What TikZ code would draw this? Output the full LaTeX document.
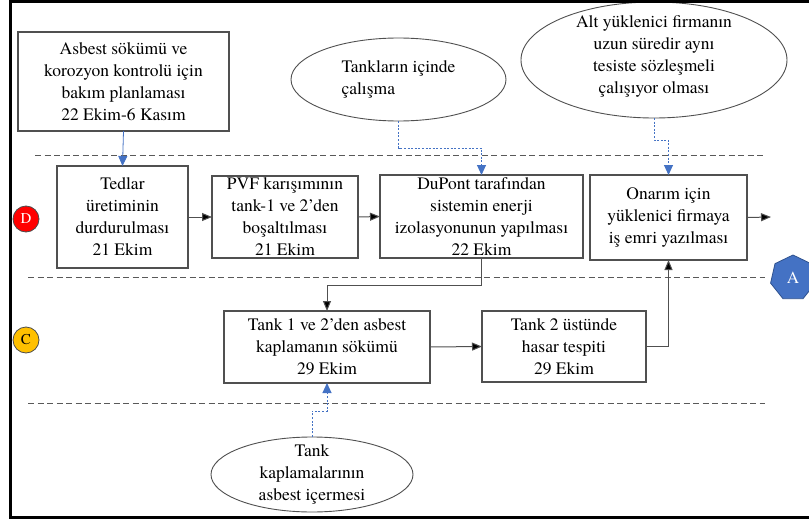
\documentclass[tikz,border=0pt]{standalone}
\usepackage{fontspec}
\setmainfont{TeX Gyre Termes}
\usetikzlibrary{arrows.meta,shapes.geometric}

\definecolor{boxline}{HTML}{505050}
\definecolor{sepline}{HTML}{595959}
\definecolor{accent}{HTML}{4472C4}
\definecolor{accentdark}{HTML}{2F528F}
\definecolor{markred}{HTML}{FF0000}
\definecolor{markgold}{HTML}{FFC000}

\begin{document}
\begin{tikzpicture}[x=1pt,y=-1pt,
  every node/.style={inner sep=0pt, outer sep=0pt},
  txt/.style={font=\fontsize{17.5}{22}\selectfont, align=center},
  stepbox/.style={draw=boxline, line width=1.2pt, fill=white, rectangle},
  cloud/.style={draw=boxline, line width=0.9pt, fill=white, ellipse},
  sepdash/.style={draw=sepline, line width=1pt, dash pattern=on 6pt off 3.5pt},
  flow/.style={draw=boxline, line width=1pt, -{Triangle[length=10pt,width=8pt,fill=black]}},
  cause/.style={draw=accent, line width=1pt, dash pattern=on 2pt off 1.6pt,
                -{Triangle[length=10pt,width=9pt,fill=accent]}},
  plan/.style={draw=accent, line width=0.8pt, -{Triangle[length=10pt,width=9pt,fill=accent]}},
  marker/.style={circle, draw=black!70, line width=0.8pt, minimum size=26pt,
                 font=\fontsize{15}{15}\selectfont}
]
\useasboundingbox (0,0) rectangle (809,519);
\clip (0,0) rectangle (809,519);

% lane separators
\draw[sepdash] (35,155) -- (765,155);
\draw[sepdash] (28,277) -- (765,277);
\draw[sepdash] (28,403) -- (765,403);

% planning box and contributing conditions
\node[stepbox, minimum width=211, minimum height=99,
      label={[txt]center:Asbest sökümü ve\\korozyon kontrolü için\\bakım planlaması\\22 Ekim-6 Kasım}]
  (plan) at (123.5,81.5) {};
\node[cloud, minimum width=215, minimum height=83,
      label={[txt, align=left]center:Tankların içinde\\çalışma}]
  (work) at (398.5,79.5) {};
\node[cloud, minimum width=266, minimum height=116,
      label={[txt, yshift=4pt]center:Alt yüklenici firmanın\\uzun süredir aynı\\tesiste sözleşmeli\\çalışıyor olması}]
  (sub) at (654,60) {};
\node[cloud, minimum width=202, minimum height=75,
      label={[txt]center:Tank\\kaplamalarının\\asbest içermesi}]
  (asb) at (312,474.5) {};

% lane D
\node[stepbox, minimum width=131, minimum height=102,
      label={[txt]center:Tedlar\\üretiminin\\durdurulması\\21 Ekim}]
  (ted) at (122.5,217) {};
\node[stepbox, minimum width=146, minimum height=82,
      label={[txt]center:PVF karışımının\\tank-1 ve 2’den\\boşaltılması\\21 Ekim}]
  (pvf) at (285,217) {};
\node[stepbox, minimum width=203, minimum height=83,
      label={[txt]center:DuPont tarafından\\sistemin enerji\\izolasyonunun yapılması\\22 Ekim}]
  (dup) at (481.5,216.5) {};
\node[stepbox, minimum width=157, minimum height=85,
      label={[txt]center:Onarım için\\yüklenici firmaya\\iş emri yazılması}]
  (onr) at (668.5,217.5) {};

% lane C
\node[stepbox, minimum width=206, minimum height=72,
      label={[txt]center:Tank 1 ve 2’den asbest\\kaplamanın sökümü\\29 Ekim}]
  (tk1) at (327,347) {};
\node[stepbox, minimum width=164, minimum height=71,
      label={[txt]center:Tank 2 üstünde\\hasar tespiti\\29 Ekim}]
  (tk2) at (564,346.5) {};

% lane markers and off-page connector
\node[marker, fill=markred, text=white] (laneD) at (26,219) {D};
\node[marker, fill=markgold, text=black] (laneC) at (26,340) {C};
\node[regular polygon, regular polygon sides=7, minimum size=46pt,
      fill=accent, draw=accentdark, line width=0.8pt, text=white,
      font=\fontsize{17}{17}\selectfont] (cont) at (793,278) {A};
\coordinate (out) at (771,217);

% sequence
\draw[plan] (plan.south) -- (ted.north);
\draw[flow] (ted.east) -- (pvf.west);
\draw[flow] (pvf.east) -- (dup.west);
\draw[flow] (onr.east) -- (out);
\draw[flow] (dup.south) -- ++(0,27) -| (tk1.north);
\draw[flow] (tk1.east) -- (tk2.west);
\draw[flow] (tk2.east) -| (onr.south);

% contributing conditions
\draw[cause] (work.south) -- ++(0,27) -| (dup.north);
\draw[cause] (sub.south) -- ++(0,22) -| (onr.north);
\draw[cause] (asb.north) -- ++(0,-26) -| (tk1.south);

% frame
\draw[line width=3pt] (809,1.5) -- (10,1.5) -- (10,517.5) -- (809,517.5);
\end{tikzpicture}
\end{document}
